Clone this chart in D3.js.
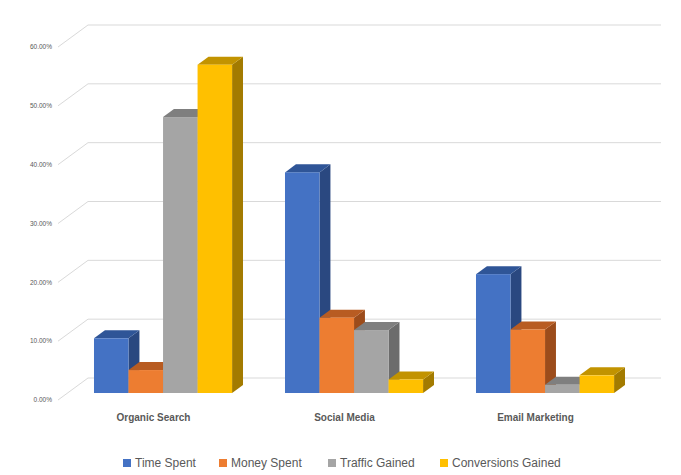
<!DOCTYPE html>
<html><head><meta charset="utf-8">
<script src="https://cdn.jsdelivr.net/npm/d3@7/dist/d3.min.js"></script>
<style>body{margin:0;background:#fff}svg{display:block}</style>
</head><body>
<svg id="c" width="681" height="475"></svg>
<script>
const categories = ["Organic Search", "Social Media", "Email Marketing"];
const seriesNames = ["Time Spent", "Money Spent", "Traffic Gained", "Conversions Gained"];
const timeSpent = [0.093, 0.375, 0.202];
const moneySpent = [0.039, 0.128, 0.108];
const trafficGained = [0.469, 0.107, 0.014];
const conversionsGained = [0.558, 0.023, 0.030];
const tickValues = [0, 0.1, 0.2, 0.3, 0.4, 0.5, 0.6];

const seriesValues = [timeSpent, moneySpent, trafficGained, conversionsGained];
const colors = {
  front: ["#4472c4", "#ed7d31", "#a5a5a5", "#ffc000"],
  top:   ["#2f5597", "#b85c22", "#7f7f7f", "#c29300"],
  side:  ["#2a4880", "#9c4c1b", "#6c6c6c", "#a37b00"]
};

const svg = d3.select("#c");
const depth = [30, -22];       // full floor depth vector
const x0 = 58, x1 = 631;       // front plane category range
const y = d3.scaleLinear().domain([0, 0.6]).range([400, 47]);
const x = d3.scaleBand().domain(categories).range([x0, x1]);
const groupW = x.bandwidth() * 0.723;
const xs = d3.scaleBand().domain(seriesNames).range([0, groupW]);
const dFront = 0.318, dBack = 0.682;

// gridlines (side wall + back wall)
const grid = svg.append("g");
tickValues.forEach(t => {
  const yy = y(t);
  grid.append("path")
    .attr("d", `M${x0},${yy}L${x0 + depth[0]},${yy + depth[1]}L${x1 + depth[0]},${yy + depth[1]}`)
    .attr("fill", "none").attr("stroke", "#d9d9d9").attr("stroke-width", 1);
});

// y axis labels
svg.append("g").selectAll("text").data(tickValues).join("text")
  .attr("x", 52).attr("y", d => y(d)).attr("dy", "0.35em")
  .attr("text-anchor", "end")
  .attr("font-family", "Liberation Sans, Arial, sans-serif")
  .attr("font-size", 6.5).attr("fill", "#595959")
  .text(d3.format(".2%"));

// bars
const bars = svg.append("g");
categories.forEach((cat, ci) => {
  const gx = x(cat) + (x.bandwidth() - groupW) / 2;
  seriesNames.forEach((s, si) => {
    const v = seriesValues[si][ci];
    const fx = gx + xs(s) + depth[0] * dFront;
    const fy0 = y(0) + depth[1] * dFront;
    const fy1 = y(v) + depth[1] * dFront;
    const w = xs.bandwidth();
    const dx = depth[0] * (dBack - dFront), dy = depth[1] * (dBack - dFront);
    // side
    bars.append("path")
      .attr("d", `M${fx + w},${fy1}L${fx + w + dx},${fy1 + dy}L${fx + w + dx},${fy0 + dy}L${fx + w},${fy0}Z`)
      .attr("fill", colors.side[si]);
    // top
    bars.append("path")
      .attr("d", `M${fx},${fy1}L${fx + dx},${fy1 + dy}L${fx + w + dx},${fy1 + dy}L${fx + w},${fy1}Z`)
      .attr("fill", colors.top[si]);
    // front
    bars.append("rect")
      .attr("x", fx).attr("y", fy1).attr("width", w).attr("height", fy0 - fy1)
      .attr("fill", colors.front[si]);
  });
});

// category labels
svg.append("g").selectAll("text").data(categories).join("text")
  .attr("x", d => x(d) + x.bandwidth() / 2)
  .attr("y", 417).attr("dy", "0.35em")
  .attr("text-anchor", "middle")
  .attr("font-family", "Liberation Sans, Arial, sans-serif")
  .attr("font-size", 10).attr("font-weight", "bold").attr("fill", "#595959")
  .text(d => d);

// legend
const legendX = [123, 219, 328, 440];
const lg = svg.append("g");
seriesNames.forEach((s, i) => {
  lg.append("rect").attr("x", legendX[i]).attr("y", 459).attr("width", 8).attr("height", 8)
    .attr("fill", colors.front[i]);
  lg.append("text").attr("x", legendX[i] + 12).attr("y", 463).attr("dy", "0.35em")
    .attr("font-family", "Liberation Sans, Arial, sans-serif")
    .attr("font-size", 12).attr("fill", "#595959").text(s);
});
</script>
</body></html>
